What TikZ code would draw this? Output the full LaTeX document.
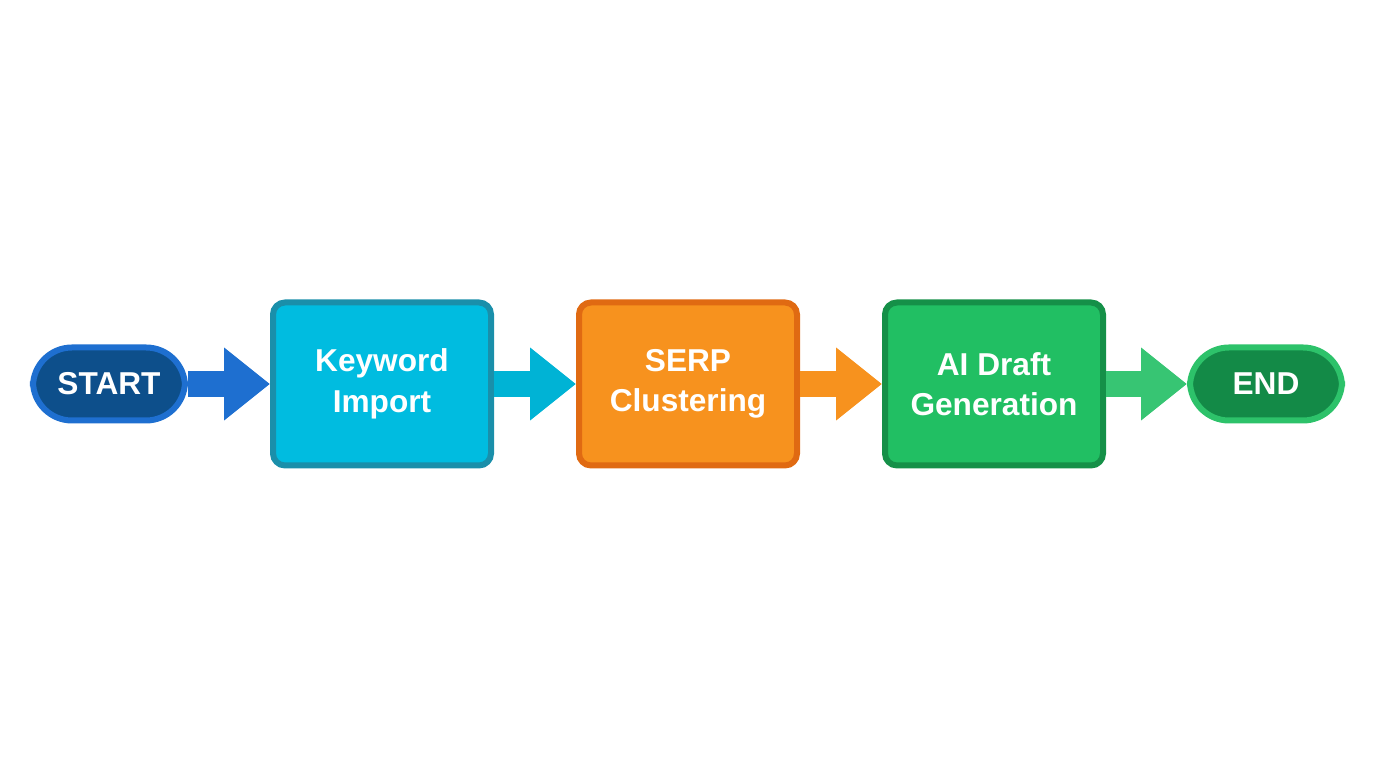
\documentclass[tikz,border=0pt]{standalone}
\usepackage{fontspec}
\setmainfont{Liberation Sans}
\usetikzlibrary{arrows.meta, positioning}
\definecolor{startfill}{HTML}{0D4F8B}
\definecolor{startline}{HTML}{1E6FD0}
\definecolor{kwfill}{HTML}{00BCE0}
\definecolor{kwline}{HTML}{1A8FAA}
\definecolor{serpfill}{HTML}{F7921E}
\definecolor{serpline}{HTML}{E06A12}
\definecolor{aifill}{HTML}{21BF63}
\definecolor{ailine}{HTML}{159048}
\definecolor{endfill}{HTML}{138A47}
\definecolor{endline}{HTML}{2DC26A}
\tikzstyle{terminal} = [rectangle, rounded corners=0.39cm, minimum width=1.52cm, minimum height=0.73cm, line width=0.06cm, text=white, font=\bfseries\fontsize{9}{11}\selectfont]
\tikzstyle{stage} = [rectangle, rounded corners=0.12cm, minimum width=2.18cm, minimum height=1.63cm, line width=0.06cm, text=white, align=center, font=\bfseries\fontsize{9}{11.5}\selectfont]
\tikzstyle{flow} = [line width=0.26cm, -{Triangle[length=0.46cm,width=0.7cm]}]

\begin{document}
\begin{tikzpicture}
  \useasboundingbox (0,0) rectangle (13.76,7.68);

  % Nodes for main flow
  \node (start) [terminal, draw=startline, fill=startfill] at (1.09,3.84) {START};
  \node (keyword) [stage, draw=kwline, fill=kwfill] at (3.82,3.84) {Keyword\\Import};
  \node (serp) [stage, draw=serpline, fill=serpfill, right=0.82cm of keyword] {SERP\\Clustering};
  \node (draft) [stage, draw=ailine, fill=aifill, right=0.82cm of serp] {AI Draft\\Generation};
  \node (end) [terminal, draw=endline, fill=endfill] at (12.66,3.84) {END};

  % Arrows between stages
  \draw [flow, color=startline] (start) -- (keyword);
  \draw [flow, color=kwfill!95!black] (keyword) -- (serp);
  \draw [flow, color=serpfill] (serp) -- (draft);
  \draw [flow, color=aifill!90!white] (draft) -- (end);

\end{tikzpicture}
\end{document}
